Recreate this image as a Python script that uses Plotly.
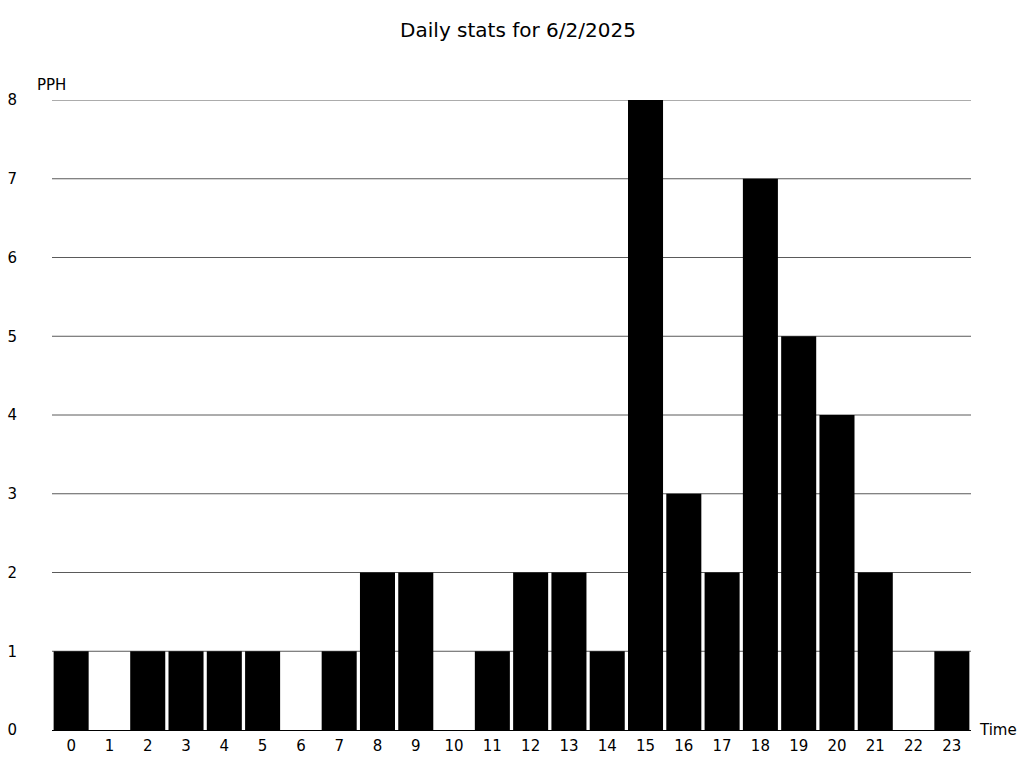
import plotly.graph_objects as go

hours = [str(h) for h in range(24)]
pph = [1, 0, 1, 1, 1, 1, 0, 1, 2, 2, 0, 1, 2, 2, 1, 8, 3, 2, 7, 5, 4, 2, 0, 1]
y_ticks = list(range(0, 9))

W, H = 1024, 768
L, R, T, B = 52, 53, 100, 38

fig = go.Figure()
fig.add_trace(go.Bar(x=hours, y=pph, marker=dict(color="black", line=dict(width=0)),
                     hoverinfo="x+y"))

shapes = [
    dict(type="line", xref="paper", yref="y", x0=0, x1=1, y0=v, y1=v,
         line=dict(color="#5a5a5a", width=1), layer="below")
    for v in y_ticks[1:]
]

fig.update_layout(
    width=W, height=H,
    margin=dict(l=L, r=R, t=T, b=B, pad=0),
    paper_bgcolor="white", plot_bgcolor="white",
    font=dict(family="DejaVu Sans", size=15, color="black"),
    title=dict(text="Daily stats for 6/2/2025", x=518 / W, xanchor="center",
               y=1 - 30 / H, yanchor="middle", yref="container", xref="container",
               font=dict(size=20, color="black")),
    bargap=0.085,
    showlegend=False,
    shapes=shapes,
    xaxis=dict(type="category", showline=True, linecolor="black", linewidth=1,
               ticks="", showgrid=False, tickfont=dict(size=15),
               ticklabelstandoff=2, automargin=False),
    yaxis=dict(range=[0, 8], tickvals=y_ticks, showgrid=False,
               zeroline=False, showline=False, ticks="",
               tickfont=dict(size=15), ticklabelstandoff=34, automargin=False),
    annotations=[
        dict(text="PPH", xref="paper", yref="paper", x=(35 - L) / (W - L - R),
             y=(H - B - 85) / (H - T - B), xanchor="left", yanchor="middle",
             showarrow=False, font=dict(size=15)),
        dict(text="Time", xref="paper", yref="paper", x=(977 - L) / (W - L - R),
             y=0, xanchor="left", yanchor="middle", showarrow=False,
             font=dict(size=15)),
    ],
)

fig.write_html(
    "out.html",
    config={"displayModeBar": False},
    post_script="document.body.style.margin='0';document.body.style.overflow='hidden';",
)
